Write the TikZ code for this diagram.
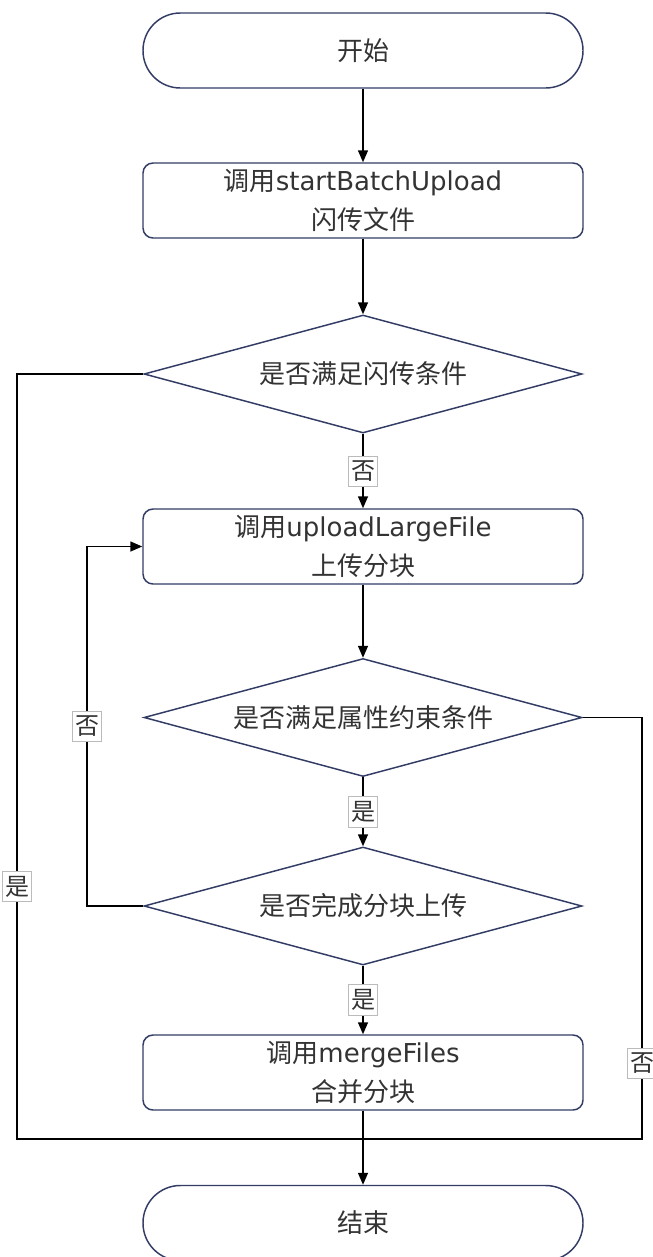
\documentclass[tikz,border=0pt]{standalone}
\usepackage{fontspec}
\setmainfont{Noto Sans CJK SC}
\newfontfamily\dv{DejaVu Sans}
\usetikzlibrary{shapes.geometric,arrows.meta}
\definecolor{bordc}{HTML}{323C64}
\definecolor{txtc}{HTML}{333333}
\definecolor{lblc}{HTML}{BBBBBB}
\tikzset{
  px/.style={x=0.75pt,y=-0.75pt},
  base/.style={draw=bordc,line width=1.1pt,fill=white,text=txtc,align=center,
    font=\fontsize{19.5}{29}\selectfont,inner sep=0pt},
  term/.style={base,rectangle,rounded corners=28pt,minimum width=330pt,minimum height=56.25pt},
  proc/.style={base,rectangle,rounded corners=7.5pt,minimum width=330pt,minimum height=56.25pt},
  dec/.style={base,diamond,minimum width=328.5pt,minimum height=88.5pt,aspect=3.7},
  conn/.style={line width=1.1pt,draw=black,-{Triangle[length=9pt,width=7.5pt]}},
  line/.style={line width=1.1pt,draw=black},
  lbl/.style={draw=lblc,line width=0.5pt,fill=white,text=txtc,inner xsep=2pt,inner ysep=3.5pt,
    font=\fontsize{18}{20}\selectfont}
}
\begin{document}
\begin{tikzpicture}[px]
\useasboundingbox (0,0) rectangle (653,1257);
\node[term] (start) at (363,50.5) {开始};
\node[proc] (b1) at (363,200.5) {调用{\dv startBatchUpload}\\闪传文件};
\node[dec] (d1) at (363,374) {是否满足闪传条件};
\node[proc] (b2) at (363,546.5) {调用{\dv uploadLargeFile}\\上传分块};
\node[dec] (d2) at (363,717.5) {是否满足属性约束条件};
\node[dec] (d3) at (363,906) {是否完成分块上传};
\node[proc] (b4) at (363,1072.5) {调用{\dv mergeFiles}\\合并分块};
\node[term] (end) at (363,1223) {结束};
\coordinate (j) at (363,1139);
\coordinate (l1a) at (17,374);
\coordinate (l1b) at (17,1139);
\coordinate (r1a) at (642,717.5);
\coordinate (r1b) at (642,1139);
\coordinate (l2a) at (87,906);
\coordinate (l2b) at (87,546.5);

\draw[conn] (start) -- (b1);
\draw[conn] (b1) -- (d1);
\draw[conn] (d1) -- node[lbl]{否} (b2);
\draw[conn] (b2) -- (d2);
\draw[conn] (d2) -- node[lbl]{是} (d3);
\draw[conn] (d3) -- node[lbl]{是} (b4);
\draw[conn] (b4) -- (end);
\draw[line] (d1.west) -- (l1a) -- node[lbl,pos=0.67]{是} (l1b) -- (j);
\draw[line] (d2.east) -- (r1a) -- node[lbl,pos=0.82]{否} (r1b) -- (j);
\draw[conn] (d3.west) -- (l2a) -- node[lbl,pos=0.5]{否} (l2b) -- (b2.west);
\end{tikzpicture}
\end{document}
